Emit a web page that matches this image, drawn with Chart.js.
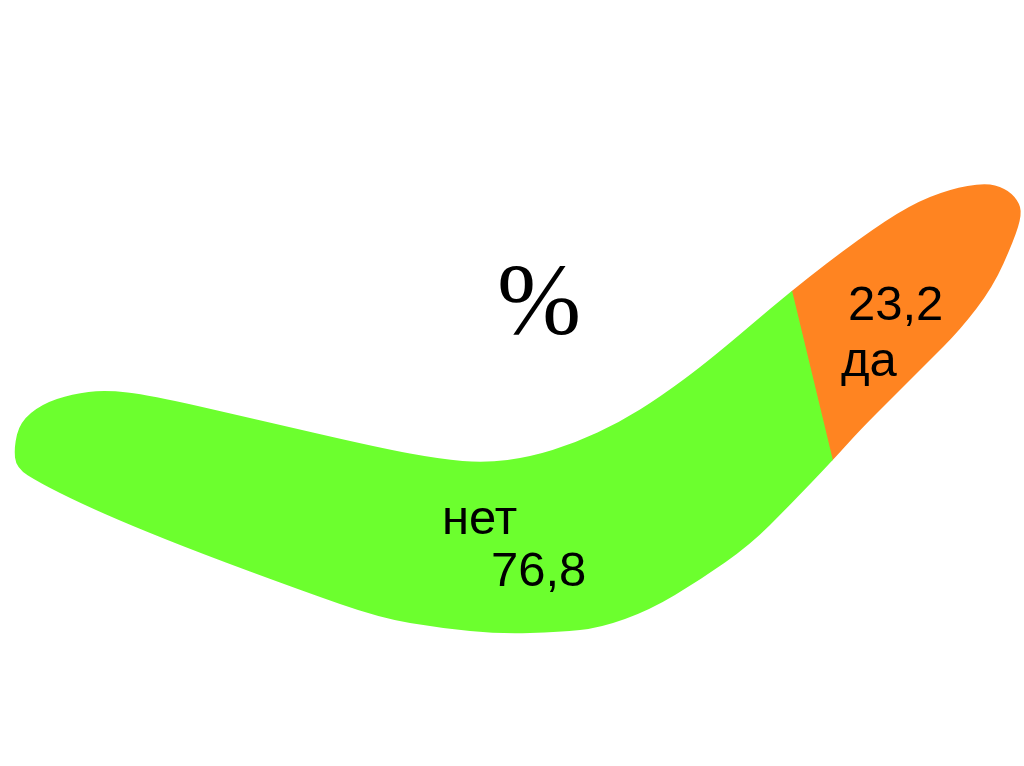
<!DOCTYPE html>
<html>
<head>
<meta charset="utf-8">
<style>
  html, body { margin: 0; padding: 0; background: #ffffff; }
  #wrap { width: 1024px; height: 766px; position: relative; }
</style>
<script src="https://cdn.jsdelivr.net/npm/chart.js@4"></script>
</head>
<body>
<div id="wrap"><canvas id="c" width="1024" height="766"></canvas></div>
<script>
// ---- data ----
const categories = ['нет', 'да'];
const values = [76.8, 23.2];
const colors = ['#6cff2e', '#ff8421'];
const titleText = '%';

// ---- boomerang outline (decorative clip shape) ----
const outline = [
  [14,447],[20,422],[42,404],[72,394],[105,390],[150,395],[250,418],[380,448],
  [440,459],[485,463],[530,457],[575,443],[620,422],[660,397],[710,360],[792,290],
  [860,238],[910,205],[950,189],[985,183],[1005,188],[1018,200],[1022,214],
  [1014,240],[993,287],[960,330],[927,363],[893,397],[860,430],[833,460],[790,505],
  [750,545],[700,580],[650,610],[600,628],[560,632],[500,634],[440,628],[380,618],
  [300,590],[200,553],[130,525],[80,503],[40,483],[16,468]
];

function boomerangPath(ctx) {
  const n = outline.length;
  ctx.beginPath();
  const mid = (a, b) => [(a[0]+b[0])/2, (a[1]+b[1])/2];
  let m0 = mid(outline[n-1], outline[0]);
  ctx.moveTo(m0[0], m0[1]);
  for (let i = 0; i < n; i++) {
    const p = outline[i];
    const m = mid(p, outline[(i+1) % n]);
    ctx.quadraticCurveTo(p[0], p[1], m[0], m[1]);
  }
  ctx.closePath();
}

const boomerangPlugin = {
  id: 'boomerang',
  beforeDatasetsDraw(chart) {
    const ctx = chart.ctx;
    ctx.save();
    boomerangPath(ctx);
    ctx.clip();
    const k = 0.241;
    ctx.transform(1.15, 0, k, 1, -92.4 - k * 375, 0);
  },
  afterDatasetsDraw(chart) {
    const ctx = chart.ctx;
    ctx.restore();
    // labels
    const fmt = v => v.toFixed(1).replace('.', ',');
    ctx.save();
    ctx.fillStyle = '#000000';
    ctx.textBaseline = 'alphabetic';
    ctx.textAlign = 'left';
    ctx.font = '49px "Liberation Sans", Arial, sans-serif';
    // нет / 76,8
    ctx.fillText(categories[0], 442, 534);
    ctx.fillText(fmt(values[0]), 491, 586);
    // 23,2 / да
    ctx.fillText(fmt(values[1]), 848, 320);
    ctx.fillText(categories[1], 841, 376);
    // title
    ctx.textAlign = 'center';
    ctx.font = '101px "Liberation Serif", "Times New Roman", serif';
    ctx.fillText(titleText, 539, 334);
    ctx.restore();
  }
};

new Chart(document.getElementById('c'), {
  type: 'bar',
  data: {
    labels: ['%'],
    datasets: categories.map((c, i) => ({
      label: c,
      data: [values[i]],
      backgroundColor: colors[i],
      borderWidth: 0,
      barPercentage: 1,
      categoryPercentage: 1,
      clip: false
    }))
  },
  options: {
    indexAxis: 'y',
    responsive: false,
    animation: false,
    layout: { padding: 0 },
    plugins: { legend: { display: false }, title: { display: false }, tooltip: { enabled: false } },
    scales: {
      x: { stacked: true, min: 0, max: 100, display: false },
      y: { stacked: true, display: false }
    }
  },
  plugins: [boomerangPlugin]
});
</script>
</body>
</html>
